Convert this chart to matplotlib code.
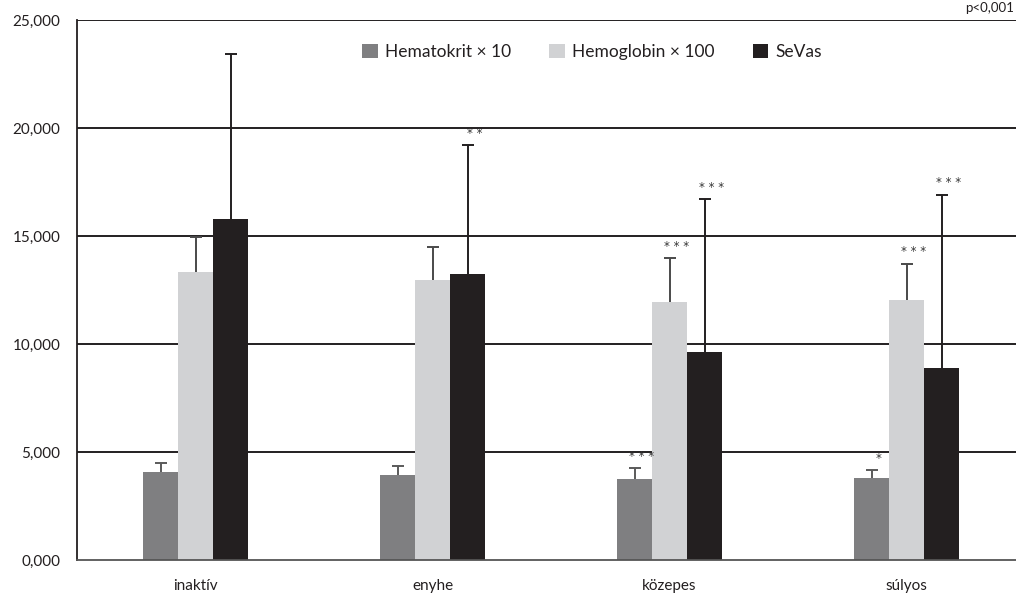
import matplotlib
matplotlib.use("Agg")
import matplotlib.pyplot as plt
import numpy as np

categories = ["inaktív", "enyhe", "közepes", "súlyos"]
series_names = ["Hematokrit × 10", "Hemoglobin × 100", "SeVas"]
hematokrit = [4.07, 3.94, 3.75, 3.80]
hematokrit_err = [0.43, 0.43, 0.51, 0.37]
hemoglobin = [13.33, 12.96, 11.94, 12.04]
hemoglobin_err = [1.62, 1.54, 2.04, 1.68]
sevas = [15.79, 13.24, 9.63, 8.89]
sevas_err = [7.64, 5.97, 7.08, 8.02]
hematokrit_sig = ["", "", "***", "*"]
hemoglobin_sig = ["", "", "***", "***"]
sevas_sig = ["", "**", "***", "***"]
yticks = [0, 5, 10, 15, 20, 25]
note = "p<0,001"

colors = ["#7f7f81", "#d1d2d4", "#231f20"]
err_colors = ["#5a5a5a", "#4a4a4a", "#231f20"]

plt.rcParams['font.family'] = ['Lato', 'DejaVu Sans']

fig = plt.figure(figsize=(10.16, 5.95), dpi=100)
ax = fig.add_axes([77/1016, 35/595, 948/1016, 540/595])

x = np.arange(len(categories))
w = 35/237
vals = [hematokrit, hemoglobin, sevas]
errs = [hematokrit_err, hemoglobin_err, sevas_err]
sigs = [hematokrit_sig, hemoglobin_sig, sevas_sig]

for yv in yticks[1:]:
    ax.axhline(yv, color="#231f20", lw=1.4, zorder=1)

for i in range(3):
    xs = x + (i - 1) * w
    v = np.array(vals[i])
    e = np.array(errs[i])
    ax.bar(xs, v, width=w, color=colors[i], label=series_names[i], zorder=2)
    ax.vlines(xs, v, v + e, color=err_colors[i], lw=1.4, zorder=3)
    ax.plot(xs, v + e, linestyle="none", marker="_", markersize=9, markeredgewidth=1.4,
            color=err_colors[i], zorder=3)
    for j in range(len(xs)):
        if sigs[i][j]:
            ax.text(xs[j] + 0.03, v[j] + e[j] + 0.55, " ".join(sigs[i][j]),
                    ha="center", va="center", fontsize=8.5, color="#333333",
                    family="DejaVu Sans", zorder=4)

ax.set_xlim(-0.5, 3.5)
ax.set_ylim(0, 25)
ax.set_yticks(yticks)
ax.set_yticklabels([f"{v:.3f}".replace(".", ",") for v in yticks])
ax.set_xticks(x)
ax.set_xticklabels(categories)
ax.tick_params(axis="both", length=0, labelsize=11, colors="#231f20")
ax.tick_params(axis="x", pad=14)
ax.tick_params(axis="y", pad=12)
for s in ["top", "right"]:
    ax.spines[s].set_visible(False)
ax.spines["left"].set_color("#231f20")
ax.spines["left"].set_linewidth(1.3)
ax.spines["bottom"].set_color("#555555")
ax.spines["bottom"].set_linewidth(1.3)

leg = ax.legend(loc="upper center", bbox_to_anchor=(515/948, 0.985),
                ncol=3, frameon=False, fontsize=12.5, handlelength=0.9, handleheight=0.9,
                handletextpad=0.4, columnspacing=2.2)
for t in leg.get_texts():
    t.set_color("#231f20")

fig.text(1014/1016, 1 - 2/595, note, ha="right", va="top", fontsize=9.5, color="#231f20")

fig.savefig("out.png", dpi=100)
